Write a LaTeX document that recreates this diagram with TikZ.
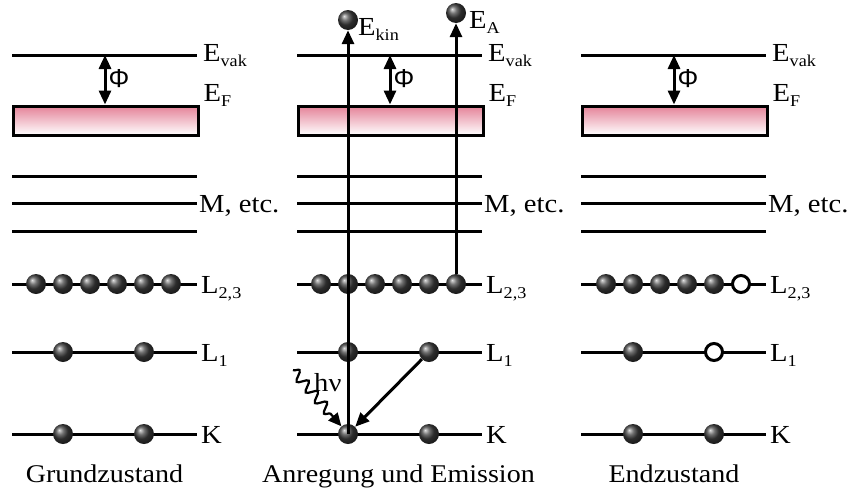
\documentclass[tikz,border=0pt]{standalone}
\usepackage{fontspec}
\setmainfont[FakeStretch=1.1]{Liberation Serif}
\newfontfamily\symfont{Liberation Sans}
\usetikzlibrary{arrows.meta,decorations.pathmorphing}
\definecolor{bandpink}{RGB}{228,130,152}
\newcommand\lsub[1]{\raisebox{-5pt}{\fontsize{16.5}{17}\selectfont #1}}
\tikzset{
  lev/.style={line width=3pt},
  el/.style={circle,inner sep=0pt,minimum size=20pt,shading=ball,ball color=gray!50!black},
  hole/.style={circle,inner sep=0pt,minimum size=17pt,draw,line width=3pt,fill=white},
  band/.style={rectangle,draw,line width=3pt,top color=bandpink,bottom color=white,
    minimum width=185pt,minimum height=29pt,inner sep=0pt},
  tip/.style={-{Triangle[length=14pt,width=12pt]}},
  arr/.style={line width=3pt,tip},
  darr/.style={line width=3pt,{Triangle[length=14pt,width=12pt]}-{Triangle[length=14pt,width=12pt]}},
  lbl/.style={anchor=base west,inner sep=0pt,font=\fontsize{26}{26}\selectfont},
  caption/.style={anchor=base,inner sep=0pt,font=\fontsize{25.5}{26}\selectfont},
}
\begin{document}
\begin{tikzpicture}[x=1pt,y=-1pt]
\useasboundingbox (0,0) rectangle (851,490);

% common level scheme of the three panels
\foreach \p/\ox in {1/0,2/285,3/569}{
  \begin{scope}[xshift=\ox pt]
    % vacuum level and Fermi band
    \coordinate (vakL\p) at (12,55);
    \coordinate (vakR\p) at (197,55);
    \draw[lev] (vakL\p) -- (vakR\p);
    \node[lbl] (vak\p) at ([shift={(6,6)}]vakR\p) {E\lsub{vak}};
    \node[band] (band\p) at (105.5,120.5) {};
    \node[lbl] (ef\p) at ([shift={(4,-3)}]band\p.north east) {E\lsub{F}};
    \coordinate (phiT\p) at (105,55);
    \coordinate (phiB\p) at (band\p.north -| phiT\p);
    \draw[darr] (phiT\p) -- (phiB\p);
    \node[anchor=center,inner sep=0pt,font=\symfont\fontsize{26}{26}\selectfont] (phi\p) at (119,79) {Φ};
    % M shell and higher
    \foreach \y/\n in {176/a,203/b,231/c}{
      \coordinate (mL\n\p) at (12,\y);
      \coordinate (mR\n\p) at (197,\y);
      \draw[lev] (mL\n\p) -- (mR\n\p);
    }
    \node[lbl] (m\p) at ([shift={(2,9)}]mRb\p) {M, etc.};
    % L and K shells
    \foreach \y/\n/\t in {284/l23/{L\lsub{2,3}},352/l1/{L\lsub{1}},434/k/{K}}{
      \coordinate (\n L\p) at (12,\y);
      \coordinate (\n R\p) at (197,\y);
      \draw[lev] (\n L\p) -- (\n R\p);
      \node[lbl] (\n T\p) at ([shift={(4,9)}]\n R\p) {\t};
    }
  \end{scope}
}

% ground state
\foreach \i/\x in {1/36,2/63,3/90,4/117,5/144,6/171}
  \node[el] (la\i) at (\x,284) {};
\node[el] (l1a1) at (63,352) {};
\node[el] (l1a2) at (144,352) {};
\node[el] (ka1) at (63,434) {};
\node[el] (ka2) at (144,434) {};

% excitation and emission
\foreach \i/\x in {1/321,2/348,3/375,4/402,5/429,6/456}
  \node[el] (lb\i) at (\x,284) {};
\node[el] (l1b1) at (348,352) {};
\node[el] (l1b2) at (429,352) {};
\node[el] (kb1) at (348,434) {};
\node[el] (kb2) at (429,434) {};
\node[el] (ekin) at (348,20) {};
\node[el] (ea) at (456,13) {};
\node[lbl] (ekinT) at (358,35) {E\lsub{kin}};
\node[lbl] (eaT) at (469,28) {E\lsub{A}};
\draw[arr] (kb1.center) -- (ekin);
\draw[arr] (lb6.north) -- (ea);
\draw[arr] (l1b2) -- (kb1);
\coordinate (hnu) at (293,370);
\draw[line width=2.2pt,decorate,decoration={snake,amplitude=5pt,segment length=14pt,post length=12pt},
  -{Triangle[length=13pt,width=12pt]}] (hnu) -- (kb1);
\node[lbl] (hnuT) at (314,391) {hν};

% final state
\foreach \i/\x in {1/606,2/633,3/660,4/687,5/714}
  \node[el] (lc\i) at (\x,284) {};
\node[hole] (lc6) at (741,284) {};
\node[el] (l1c1) at (633,352) {};
\node[hole] (l1c2) at (714,352) {};
\node[el] (kc1) at (633,434) {};
\node[el] (kc2) at (714,434) {};

% captions
\node[caption] (cap1) at (104.5,482) {Grundzustand};
\node[caption] (cap2) at (398.5,482) {Anregung und Emission};
\node[caption] (cap3) at (674,482) {Endzustand};
\end{tikzpicture}
\end{document}
